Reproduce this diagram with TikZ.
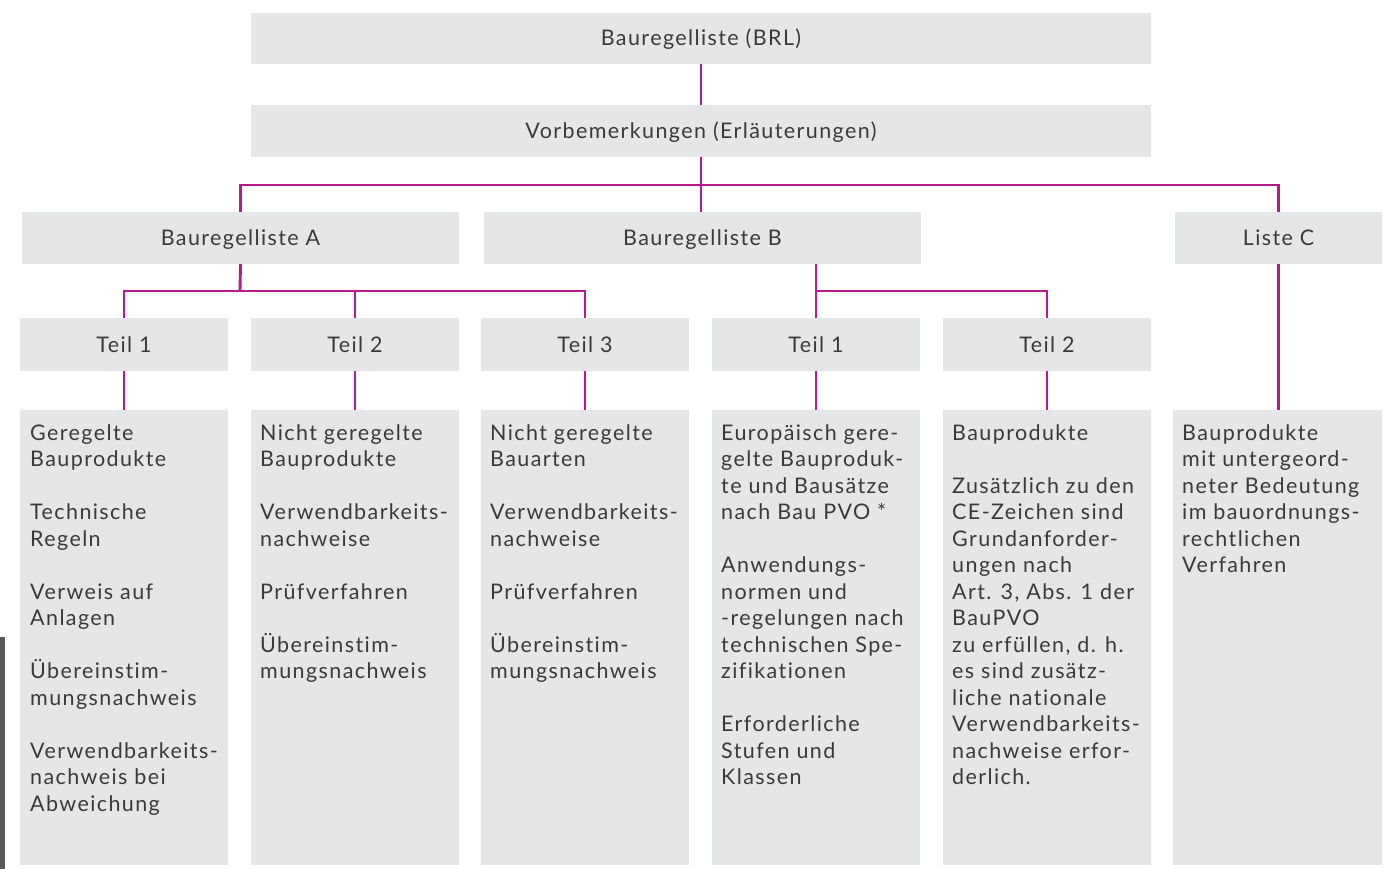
\documentclass[tikz,border=0pt]{standalone}
\usepackage{fontspec}
\setmainfont{Lato}[LetterSpace=6.5, Ligatures=NoCommon]
\definecolor{boxgray}{HTML}{E5E6E8}
\definecolor{linemag}{HTML}{B8198D}
\definecolor{txt}{HTML}{3A3A3C}
\definecolor{barg}{HTML}{5A5A5C}
\tikzset{
  box/.style={fill=boxgray, draw=none, inner sep=0pt, text=txt, text height=16pt, text depth=1pt, font=\fontsize{21.5}{26.5}\selectfont},
  conn/.style={draw=linemag, line width=2.9pt},
  btext/.style={anchor=north west, inner sep=0pt, align=left, text=txt, font=\fontsize{21.5}{26.5}\selectfont}
}
\begin{document}
\begin{tikzpicture}[x=1pt,y=-1pt]
\useasboundingbox (0,0) rectangle (1392,869);
\fill[barg] (0,637) rectangle (5,869);
% top level
\node[box, minimum width=900pt, minimum height=51pt] (brl) at (701,38.5) {Bauregelliste (BRL)};
\node[box, minimum width=900pt, minimum height=52pt] (vor) at (701,131) {Vorbemerkungen (Erläuterungen)};
\node[box, minimum width=437pt, minimum height=52pt] (la) at (240.5,238) {Bauregelliste A};
\node[box, minimum width=437pt, minimum height=52pt] (lb) at (702.5,238) {Bauregelliste B};
\node[box, minimum width=207pt, minimum height=52pt] (lc) at (1278.5,238) {Liste C};
% Teil row
\foreach \n/\x/\t in {a1/124/Teil 1, a2/355/Teil 2, a3/585/Teil 3, b1/816/Teil 1, b2/1047/Teil 2}{
  \node[box, minimum width=208pt, minimum height=53pt] (\n) at (\x,344.5) {\t};
}
% bottom boxes
\foreach \n/\x in {a1t/124, a2t/355, a3t/585, b1t/816, b2t/1047}{
  \node[box, minimum width=208pt, minimum height=455pt] (\n) at (\x,637.5) {};
}
\node[box, minimum width=209pt, minimum height=455pt] (ct) at (1277.5,637.5) {};
% connectors
\coordinate (j1) at (701,185);
\coordinate (ja) at (240,291);
\coordinate (jb) at (816,291);
\draw[conn] (brl.south) -- (vor.north);
\draw[conn] (vor.south) -- (vor.south |- lb.north);
\draw[conn] (la.north) |- (j1) -| (lc.north);
\draw[conn] (la.south) -- (ja);
\draw[conn] (a1.north) |- (ja) -| (a3.north);
\draw[conn] (a2.north) -- (a2.north |- ja);
\draw[conn] (lb.south -| jb) -- (jb) -| (b2.north);
\draw[conn] (b1.north) -- (jb);
\draw[conn] (a1.south) -- (a1t.north);
\draw[conn] (a2.south) -- (a2t.north);
\draw[conn] (a3.south) -- (a3t.north);
\draw[conn] (b1.south) -- (b1t.north);
\draw[conn] (b2.south) -- (b2t.north);
\draw[conn] (lc.south) -- (lc.south |- ct.north);
% texts
\node[btext] (ta1) at (30,424) {Geregelte\\Bauprodukte\\[26.5pt]Technische\\Regeln\\[26.5pt]Verweis auf\\Anlagen\\[26.5pt]Übereinstim-\\mungsnachweis\\[26.5pt]Verwendbarkeits-\\nachweis bei\\Abweichung};
\node[btext] (ta2) at (260,424) {Nicht geregelte\\Bauprodukte\\[26.5pt]Verwendbarkeits-\\nachweise\\[26.5pt]Prüfverfahren\\[26.5pt]Übereinstim-\\mungsnachweis};
\node[btext] (ta3) at (490,424) {Nicht geregelte\\Bauarten\\[26.5pt]Verwendbarkeits-\\nachweise\\[26.5pt]Prüfverfahren\\[26.5pt]Übereinstim-\\mungsnachweis};
\node[btext] (tb1) at (721,424) {Europäisch gere-\\gelte Bauproduk-\\te und Bausätze\\nach Bau PVO *\\[26.5pt]Anwendungs-\\normen und\\-regelungen nach\\technischen Spe-\\zifikationen\\[26.5pt]Erforderliche\\Stufen und\\Klassen};
\node[btext] (tb2) at (952,424) {Bauprodukte\\[26.5pt]Zusätzlich zu den\\CE-Zeichen sind\\Grundanforder-\\ungen nach\\Art. 3, Abs. 1 der\\BauPVO\\zu erfüllen, d. h.\\es sind zusätz-\\liche nationale\\Verwendbarkeits-\\nachweise erfor-\\derlich.};
\node[btext] (tc) at (1182,424) {Bauprodukte\\mit untergeord-\\neter Bedeutung\\im bauordnungs-\\rechtlichen\\Verfahren};
\end{tikzpicture}
\end{document}
